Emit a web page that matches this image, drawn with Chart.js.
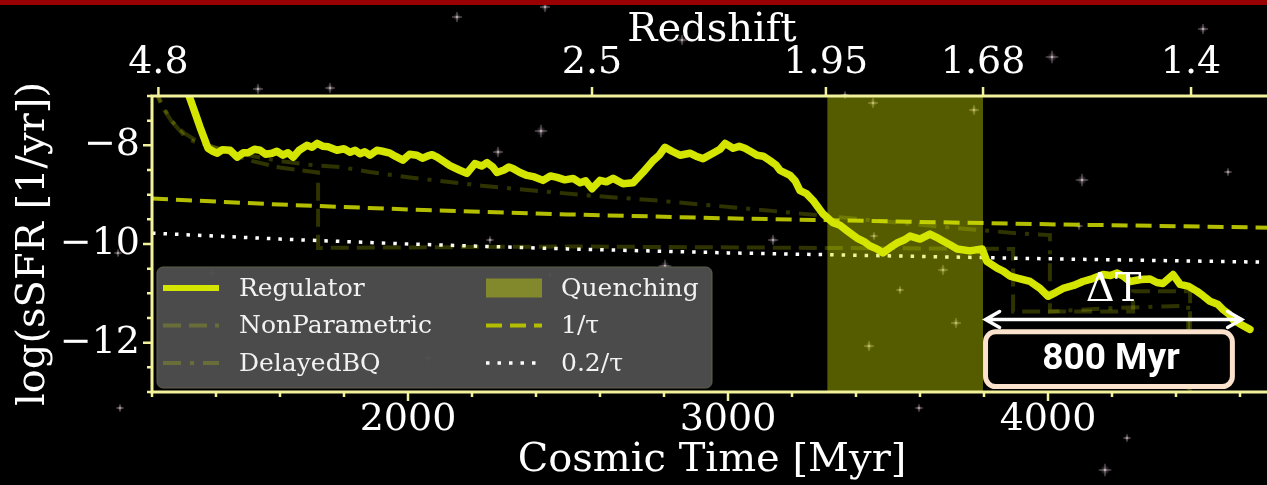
<!DOCTYPE html>
<html><head><meta charset="utf-8">
<script src="https://cdn.jsdelivr.net/npm/chart.js@4.4.1/dist/chart.umd.min.js"></script>
<style>
html,body{margin:0;padding:0;background:#000;overflow:hidden;width:1267px;height:485px;}
#wrap{position:relative;width:1280px;height:485px;}
#bar{position:absolute;left:0;top:0;width:1280px;height:5px;background:#990000;z-index:2}
canvas{position:absolute;left:0;top:0}
</style></head><body>
<div id="wrap"><canvas id="c" width="1280" height="485"></canvas><div id="bar"></div></div>
<script>
// ---------- data ----------
const xMin = 1200, xMax = 4700, xMinorStep = 200;
const yMin = -13, yMax = -7, yMinorStep = 0.5;
const xMajorTicks = [2000, 3000, 4000];
const yMajorTicks = [-12, -10, -8];
const redshiftTickTimes = [1220, 2575, 3306, 3797, 4447];
const redshiftTickLabels = ['4.8', '2.5', '1.95', '1.68', '1.4'];

const regTime = [1300,1316,1335,1350,1375,1390,1403,1420,1444,1466,1485,1500,1520,1538,1555,1575,1590,1609,1625,1641,1660,1684,1700,1716,1735,1750,1778,1800,1819,1835,1850,1865,1881,1903,1920,1944,1960,1984,2005,2028,2045,2060,2075,2091,2110,2131,2160,2184,2209,2230,2247,2265,2278,2300,2315,2328,2350,2372,2395,2422,2445,2466,2490,2516,2538,2555,2575,2600,2620,2641,2672,2703,2734,2766,2785,2803,2825,2850,2881,2900,2922,2953,2975,2991,3016,3035,3053,3075,3091,3110,3131,3150,3163,3194,3210,3225,3245,3266,3297,3328,3350,3372,3403,3425,3444,3465,3484,3505,3528,3550,3569,3600,3631,3650,3672,3695,3716,3756,3775,3794,3809,3841,3860,3881,3910,3944,3975,4000,4025,4047,4080,4109,4140,4172,4195,4216,4235,4256,4290,4319,4340,4359,4391,4413,4440,4466,4485,4506,4530,4547,4565,4578,4600,4631];
const regVal = [-6.7,-7.0,-7.35,-7.63,-8.06,-8.12,-8.16,-8.09,-8.10,-8.24,-8.15,-8.15,-8.08,-8.10,-8.18,-8.16,-8.12,-8.20,-8.15,-8.24,-8.10,-8.00,-8.04,-7.96,-8.02,-8.03,-8.10,-8.07,-8.14,-8.10,-8.17,-8.13,-8.20,-8.10,-8.12,-8.16,-8.22,-8.30,-8.18,-8.20,-8.26,-8.22,-8.19,-8.24,-8.32,-8.41,-8.50,-8.57,-8.37,-8.42,-8.35,-8.44,-8.55,-8.50,-8.44,-8.47,-8.55,-8.61,-8.64,-8.71,-8.62,-8.65,-8.70,-8.67,-8.76,-8.72,-8.88,-8.71,-8.74,-8.67,-8.78,-8.76,-8.55,-8.31,-8.20,-8.04,-8.12,-8.20,-8.16,-8.22,-8.27,-8.16,-8.08,-7.96,-8.06,-8.02,-8.06,-8.14,-8.20,-8.22,-8.31,-8.40,-8.51,-8.61,-8.72,-8.92,-8.98,-9.12,-9.39,-9.57,-9.62,-9.73,-9.88,-9.95,-10.04,-10.10,-10.18,-10.08,-9.98,-9.92,-9.84,-9.90,-9.80,-9.86,-9.94,-10.02,-10.10,-10.14,-10.12,-10.10,-10.35,-10.49,-10.55,-10.65,-10.70,-10.76,-10.90,-11.06,-10.98,-10.90,-10.84,-10.76,-10.70,-10.62,-10.64,-10.59,-10.65,-10.76,-10.72,-10.71,-10.78,-10.80,-10.62,-10.82,-10.86,-10.96,-11.05,-11.16,-11.22,-11.33,-11.42,-11.53,-11.62,-11.73];

const npTime = [1205,1230,1260,1300,1350,1400,1500,1600,1719,1719,2500,3300,3891,3891,4266,4266,4444,4444];
const npVal  = [-6.8,-7.2,-7.5,-7.75,-7.95,-8.05,-8.3,-8.45,-8.55,-10.08,-10.05,-10.08,-10.1,-11.37,-11.37,-10.96,-10.96,-13.5];

const dbqTime = [1205,1230,1260,1300,1330,1400,1500,1600,1700,1788,1880,2006,2100,2231,2300,2400,2570,2780,3020,3240,3500,3700,3900,4006,4006,4200,4438,4438];
const dbqVal  = [-6.8,-7.15,-7.5,-7.8,-7.92,-8.05,-8.2,-8.32,-8.4,-8.44,-8.54,-8.65,-8.72,-8.82,-8.86,-8.92,-9.02,-9.12,-9.26,-9.39,-9.55,-9.67,-9.78,-9.82,-11.37,-11.3,-11.25,-13.5];

const tauTime = [1200,1600,2000,2500,3000,3500,4000,4500,4700];
const invTauVal = [-9.08,-9.20,-9.30,-9.40,-9.48,-9.54,-9.60,-9.65,-9.67];
const fifthInvTauVal = [-9.78,-9.90,-10.00,-10.10,-10.18,-10.24,-10.30,-10.35,-10.37];

const quenchRange = [3310, 3797];
const deltaT = { start: 3805, end: 4605, y: -11.53, label: 'ΔT', labelX: 4205, labelY: -10.94 };
const boxNote = { x0: 3797, x1: 4584, y0: -11.73, y1: -12.94, text: '800 Myr' };

// ---------- style ----------
const SERIF = '"DejaVu Serif", serif';
const REG = '#d4e600';
const DIM = 'rgba(212,230,0,0.22)';
const TAU = '#b4be00';
const SPINE = '#f2f29b';
const QUENCH = 'rgba(212,230,0,0.40)';

const toXY = (xs, ys) => xs.map((x, i) => ({ x: x, y: ys[i] }));

const stars = [[258,89,2],[330,88,2],[457,17,2],[545,7,2],[682,40,2],[541,131,2.5],[498,152,2],[212,273,2],[118,253,1.5],[120,408,1.5],[665,266,2.5],[773,240,2],[873,103,2],[974,110,2],[874,236,1.5],[943,270,2],[900,290,1.5],[956,323,2],[869,346,2],[1082,180,2.5],[1228,172,1.5],[1184,373,2],[1052,57,2.5],[1203,29,2],[919,408,1.5],[1127,438,1.5],[1105,470,2.5],[490,240,1.5],[845,95,1.5],[428,358,2],[550,275,1.5],[1079,226,1.5]];

const starPlugin = {
  id: 'stars',
  beforeDraw(chart) {
    const ctx = chart.ctx;
    ctx.save();
    stars.forEach(([sx, sy, r]) => {
      const g = ctx.createRadialGradient(sx, sy, 0, sx, sy, r * 2);
      g.addColorStop(0, 'rgba(255,240,245,0.85)');
      g.addColorStop(0.35, 'rgba(230,200,220,0.25)');
      g.addColorStop(1, 'rgba(200,180,220,0)');
      ctx.fillStyle = g;
      ctx.beginPath(); ctx.arc(sx, sy, r * 2, 0, Math.PI * 2); ctx.fill();
      ctx.strokeStyle = 'rgba(255,235,245,0.45)';
      ctx.lineWidth = 1;
      ctx.beginPath();
      ctx.moveTo(sx - r * 2.5, sy); ctx.lineTo(sx + r * 2.5, sy);
      ctx.moveTo(sx, sy - r * 2.5); ctx.lineTo(sx, sy + r * 2.5);
      ctx.stroke();
    });
    ctx.restore();
  }
};

const axisPlugin = {
  id: 'axisDeco',
  afterDatasetsDraw(chart) {
    const { ctx, chartArea: a, scales } = chart;
    const x = scales.x, y = scales.y, x2 = scales.x2;
    ctx.save();
    ctx.strokeStyle = SPINE;
    ctx.lineWidth = 3;
    ctx.strokeRect(a.left, a.top, a.right - a.left, a.bottom - a.top);
    ctx.lineWidth = 2.5;
    ctx.beginPath();
    for (let v = xMin; v <= xMax + 1e-6; v += xMinorStep) {
      const px = x.getPixelForValue(v);
      const len = xMajorTicks.includes(v) ? 9 : 5;
      ctx.moveTo(px, a.bottom); ctx.lineTo(px, a.bottom + len);
    }
    for (let v = yMin; v <= yMax + 1e-6; v += yMinorStep) {
      const py = y.getPixelForValue(v);
      const len = yMajorTicks.includes(v) ? 9 : 5;
      ctx.moveTo(a.left, py); ctx.lineTo(a.left - len, py);
    }
    redshiftTickTimes.forEach(t => {
      const px = x2.getPixelForValue(t);
      ctx.moveTo(px, a.top); ctx.lineTo(px, a.top - 9);
    });
    ctx.stroke();
    ctx.restore();
  }
};

function drawHandle(ctx, ds, x0, x1, yc) {
  ctx.save();
  if (ds.fill) {
    ctx.fillStyle = ds.backgroundColor;
    ctx.fillRect(x0, yc - 9.5, x1 - x0, 19);
  } else {
    ctx.strokeStyle = ds.borderColor;
    ctx.lineWidth = Math.min(ds.borderWidth, 6);
    ctx.setLineDash(ds.borderDash || []);
    ctx.beginPath(); ctx.moveTo(x0, yc); ctx.lineTo(x1, yc); ctx.stroke();
  }
  ctx.restore();
}

const legendPlugin = {
  id: 'customLegend',
  afterDraw(chart) {
    const { ctx, chartArea: a } = chart;
    const dsets = chart.data.datasets;
    const byLabel = l => dsets.find(d => d.label === l);
    const bx = a.left + 5, by = a.bottom - 125, bw = 555, bh = 121;
    ctx.save();
    ctx.fillStyle = 'rgba(77,77,77,0.97)';
    ctx.strokeStyle = 'rgba(95,95,80,1)';
    ctx.lineWidth = 1;
    ctx.beginPath();
    ctx.roundRect(bx, by, bw, bh, 6);
    ctx.fill(); ctx.stroke();
    const cols = [
      { hx: bx + 6, tx: bx + 82, items: ['Regulator', 'NonParametric', 'DelayedBQ'] },
      { hx: bx + 329, tx: bx + 404, items: ['Quenching', '1/τ', '0.2/τ'] }
    ];
    ctx.font = '25px ' + SERIF;
    ctx.textBaseline = 'middle';
    cols.forEach(c => {
      c.items.forEach((lab, i) => {
        const yc = by + 21 + i * 37.5;
        const ds = byLabel(lab);
        drawHandle(ctx, ds, c.hx, c.hx + 56, yc);
        ctx.fillStyle = '#f2f2f2';
        ctx.fillText(lab, c.tx, yc + 1);
      });
    });
    ctx.restore();

    // annotation: arrow + box
    const x = chart.scales.x, y = chart.scales.y;
    ctx.save();
    const ax0 = x.getPixelForValue(deltaT.start), ax1 = x.getPixelForValue(deltaT.end), ay = y.getPixelForValue(deltaT.y);
    ctx.strokeStyle = '#ffffff';
    ctx.lineWidth = 3.5;
    ctx.lineCap = 'round';
    ctx.beginPath();
    ctx.moveTo(ax0, ay); ctx.lineTo(ax1, ay);
    ctx.moveTo(ax0 + 14, ay - 8); ctx.lineTo(ax0, ay); ctx.lineTo(ax0 + 14, ay + 8);
    ctx.moveTo(ax1 - 14, ay - 8); ctx.lineTo(ax1, ay); ctx.lineTo(ax1 - 14, ay + 8);
    ctx.stroke();
    ctx.fillStyle = '#ffffff';
    ctx.font = '40px ' + SERIF;
    ctx.textAlign = 'center';
    ctx.textBaseline = 'middle';
    ctx.fillText(deltaT.label, x.getPixelForValue(deltaT.labelX), y.getPixelForValue(deltaT.labelY));

    const rx0 = x.getPixelForValue(boxNote.x0), rx1 = x.getPixelForValue(boxNote.x1);
    const ry0 = y.getPixelForValue(boxNote.y0), ry1 = y.getPixelForValue(boxNote.y1);
    ctx.fillStyle = '#000';
    ctx.strokeStyle = '#fbe2cc';
    ctx.lineWidth = 5;
    ctx.beginPath();
    ctx.roundRect(rx0 + 2.5, ry0 + 2.5, rx1 - rx0 - 5, ry1 - ry0 - 5, 10);
    ctx.fill(); ctx.stroke();
    ctx.fillStyle = '#ffffff';
    ctx.font = 'bold 37px Roboto, "Liberation Sans", sans-serif';
    ctx.fillText(boxNote.text, (rx0 + rx1) / 2 + 2, (ry0 + ry1) / 2 + 1);
    ctx.restore();
  }
};

new Chart(document.getElementById('c'), {
  type: 'line',
  data: {
    datasets: [
      { label: 'Regulator', data: toXY(regTime, regVal), borderColor: REG, borderWidth: 7.5,
        pointRadius: 0, tension: 0, order: 0, borderJoinStyle: 'round', borderCapStyle: 'round', fill: false },
      { label: 'Quenching', data: toXY(quenchRange, [yMax, yMax]), borderWidth: 0, borderColor: 'rgba(0,0,0,0)',
        backgroundColor: QUENCH, fill: 'start', pointRadius: 0, order: 1 },
      { label: 'NonParametric', data: toXY(npTime, npVal), borderColor: DIM, borderWidth: 4,
        borderDash: [18, 8], pointRadius: 0, order: 2, fill: false },
      { label: 'DelayedBQ', data: toXY(dbqTime, dbqVal), borderColor: DIM, borderWidth: 4,
        borderDash: [18, 9, 4, 9], pointRadius: 0, order: 3, fill: false },
      { label: '1/τ', data: toXY(tauTime, invTauVal), borderColor: TAU, borderWidth: 4,
        borderDash: [16, 8], pointRadius: 0, order: 4, fill: false },
      { label: '0.2/τ', data: toXY(tauTime, fifthInvTauVal), borderColor: '#ffffff', borderWidth: 3.5,
        borderDash: [3.5, 8], pointRadius: 0, order: 5, fill: false }
    ]
  },
  options: {
    responsive: false,
    animation: false,
    devicePixelRatio: 1,
    layout: { padding: { left: 0, right: 8, top: 0, bottom: 0 } },
    plugins: { legend: { display: false }, tooltip: { enabled: false } },
    scales: {
      x: {
        type: 'linear', position: 'bottom', min: xMin, max: xMax,
        afterBuildTicks: s => { s.ticks = xMajorTicks.map(v => ({ value: v })); },
        afterFit: s => { s.height = 93; },
        grid: { display: false, drawTicks: false }, border: { display: false },
        ticks: { color: '#ffffff', font: { family: SERIF, size: 38 }, padding: 5, maxRotation: 0, autoSkip: false,
          callback: v => String(v) },
        title: { display: true, text: 'Cosmic Time [Myr]', color: '#ffffff', font: { family: SERIF, size: 40 }, padding: { top: 0, bottom: 0 } }
      },
      x2: {
        type: 'linear', position: 'top', min: xMin, max: xMax,
        afterBuildTicks: s => { s.ticks = redshiftTickTimes.map(v => ({ value: v })); },
        afterFit: s => { s.height = 96; },
        grid: { display: false, drawTicks: false }, border: { display: false },
        ticks: { color: '#ffffff', font: { family: SERIF, size: 38 }, padding: 10, maxRotation: 0, autoSkip: false,
          callback: (v, i) => redshiftTickLabels[i] },
        title: { display: true, text: 'Redshift', color: '#ffffff', font: { family: SERIF, size: 40 }, padding: { top: 7, bottom: 0 } }
      },
      y: {
        type: 'linear', position: 'left', min: yMin, max: yMax,
        afterBuildTicks: s => { s.ticks = yMajorTicks.map(v => ({ value: v })); },
        afterFit: s => { s.width = 152; },
        grid: { display: false, drawTicks: false }, border: { display: false },
        ticks: { color: '#ffffff', font: { family: SERIF, size: 38 }, padding: 12,
          callback: v => (v < 0 ? '\u2212' : '') + Math.abs(v) },
        title: { display: true, text: 'log(sSFR [1/yr])', color: '#ffffff', font: { family: SERIF, size: 40 }, padding: { top: 10, bottom: 0 } }
      }
    }
  },
  plugins: [starPlugin, axisPlugin, legendPlugin]
});
</script>
</body></html>
